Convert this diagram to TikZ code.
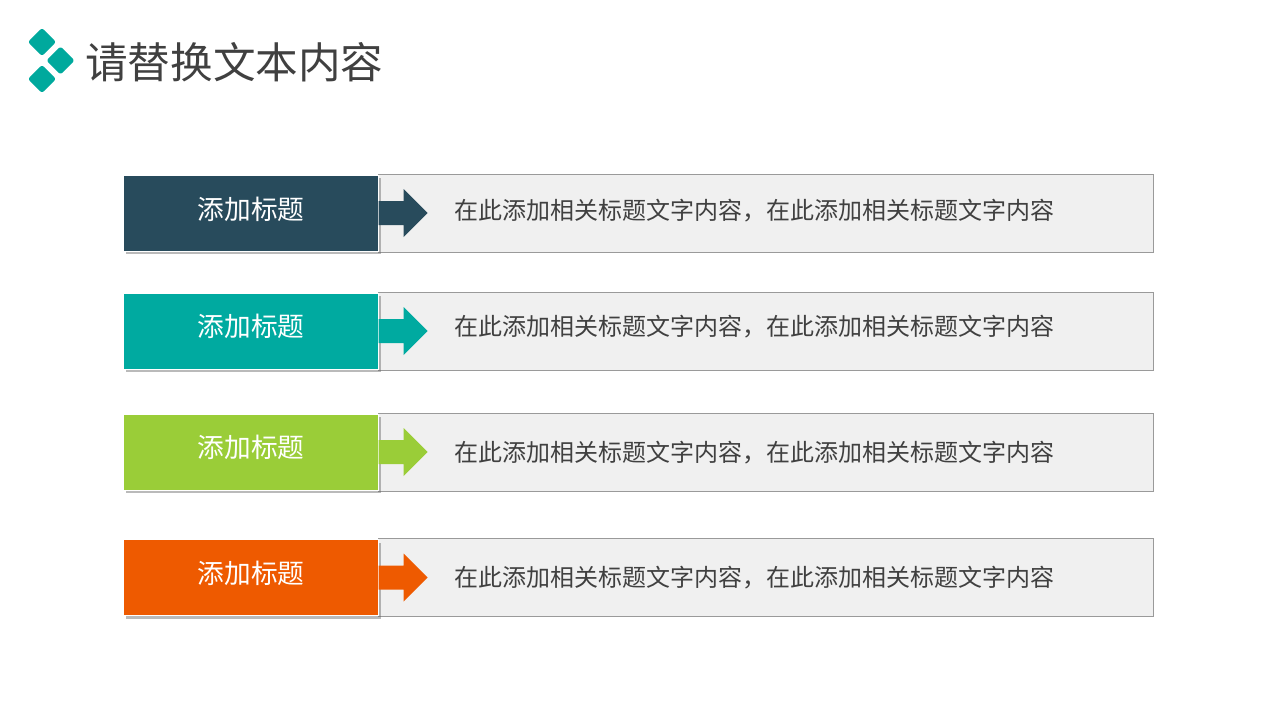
\documentclass[tikz,border=0pt]{standalone}
\usepackage{fontspec}
\setmainfont{Noto Sans CJK SC}
\usetikzlibrary{shadows}
\definecolor{c1}{HTML}{284B5C}
\definecolor{c2}{HTML}{00AAA0}
\definecolor{c3}{HTML}{9ACD38}
\definecolor{c4}{HTML}{EE5A00}
\definecolor{logo}{HTML}{00A99D}
\definecolor{txt}{HTML}{404040}
\definecolor{panel}{HTML}{F0F0F0}
\definecolor{panelline}{HTML}{9A9A9A}
\tikzset{
  x=1pt, y=-1pt,
  panelbox/.style={draw=panelline, line width=0.8pt, fill=panel, minimum width=775pt, minimum height=78pt, inner sep=0pt, anchor=west},
  titlebox/.style={fill=#1, draw=white, line width=0.6pt, minimum width=255pt, minimum height=76pt, inner sep=0pt, anchor=west,
    drop shadow={shadow xshift=3pt, shadow yshift=-3pt, opacity=0.45, fill=black!60}},
  titletext/.style={text=white, font=\fontsize{26.7}{27}\selectfont, inner sep=0pt},
  desc/.style={text=txt, font=\fontsize{24}{24}\selectfont, inner sep=0pt},
  arrowshape/.style={fill=#1, draw=none},
  dia/.style={fill=logo, draw=logo, line width=3pt, line join=round, rounded corners=1pt},
}
\begin{document}
\begin{tikzpicture}
\useasboundingbox (0,0) rectangle (1280,720);
% logo
\foreach \cx/\cy [count=\i] in {42/42, 60.5/60.5, 42/79} {
  \fill[dia] (\cx,\cy-12) -- (\cx+12,\cy) -- (\cx,\cy+12) -- (\cx-12,\cy) -- cycle;
}
\node[anchor=west, text=txt, font=\fontsize{42.6}{43}\selectfont, inner sep=0pt] (title) at (85,62) {请替换文本内容};
% rows
\foreach \cy/\col/\n/\ty/\dy in {213/c1/1/209/211, 331/c2/2/326/327, 452/c3/3/447/453, 577.5/c4/4/573/578} {
  \node[panelbox] (p\n) at (378,\cy) {};
  \node[titlebox=\col] (t\n) at (123,\cy) {};
  \node[titletext] (tt\n) at (251,\ty) {添加标题};
  \fill[arrowshape=\col] (t\n.east) ++(0,-12) -- ++(25,0) -- ++(0,-12) -- ++(24,24) -- ++(-24,24) -- ++(0,-12) -- ++(-25,0) -- cycle;
  \node[desc] (d\n) at (754,\dy) {在此添加相关标题文字内容，在此添加相关标题文字内容};
}
\end{tikzpicture}
\end{document}
